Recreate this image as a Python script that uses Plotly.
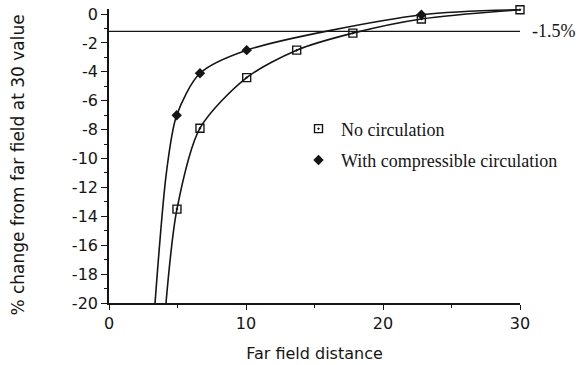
import plotly.graph_objects as go

# Data
no_circ_x = [4.96, 6.64, 10.05, 13.7, 17.8, 22.8, 30.0]
no_circ_y = [-13.5, -7.9, -4.4, -2.5, -1.32, -0.34, 0.3]
comp_x = [4.94, 6.64, 10.05, 22.8]
comp_y = [-7.0, -4.1, -2.5, -0.05]
common_end_x = [30.0]
common_end_y = [0.3]

# Curve continuation down to the axis floor (no markers there)
no_circ_tail_x = [4.16]
no_circ_tail_y = [-20.0]
comp_tail_x = [3.36, 4.2]
comp_tail_y = [-20.0, -10.9]

ref_level = -1.2
ref_label = "-1.5%"

x_ticks = [0, 10, 20, 30]
y_ticks = list(range(-20, 1, 2))

INK = "#151515"
fig = go.Figure()

line_style = dict(color=INK, width=1.6, shape="spline", smoothing=0.8)

fig.add_trace(go.Scatter(
    x=no_circ_tail_x + no_circ_x, y=no_circ_tail_y + no_circ_y,
    mode="lines", line=line_style, showlegend=False, hoverinfo="skip",
    cliponaxis=False))
fig.add_trace(go.Scatter(
    x=comp_tail_x + comp_x + common_end_x, y=comp_tail_y + comp_y + common_end_y,
    mode="lines", line=line_style, showlegend=False, hoverinfo="skip",
    cliponaxis=False))

fig.add_trace(go.Scatter(
    x=no_circ_x, y=no_circ_y, mode="markers", name="No circulation",
    legendgroup="a",
    marker=dict(symbol="square-open-dot", size=8, color=INK,
                line=dict(width=1.4, color=INK)),
    cliponaxis=False))
fig.add_trace(go.Scatter(
    x=comp_x, y=comp_y, mode="markers", name="With compressible circulation",
    legendgroup="b",
    marker=dict(symbol="diamond", size=8, color=INK),
    cliponaxis=False))

# reference line
fig.add_shape(type="line", xref="x", yref="y", x0=0, x1=30.1,
              y0=ref_level, y1=ref_level, line=dict(color=INK, width=1.4))
fig.add_annotation(x=1.024, y=ref_level, xref="paper", yref="y", text=ref_label,
                   showarrow=False, xanchor="left", yanchor="middle",
                   font=dict(family="Liberation Serif", size=18, color=INK))

# y axis title (placed as rotated text, offset like the original)
fig.add_annotation(x=-0.222, y=0.47, xref="paper", yref="paper",
                   text="% change from far field at 30 value", textangle=-90,
                   showarrow=False, xanchor="center", yanchor="middle",
                   font=dict(family="DejaVu Sans", size=17, color=INK))

fig.update_layout(
    width=579, height=365,
    margin=dict(l=109, r=59, t=5, b=62),
    paper_bgcolor="white", plot_bgcolor="white",
    font=dict(family="DejaVu Sans", size=16, color=INK),
    showlegend=True,
    legend=dict(x=0.455, y=0.655, xanchor="left", yanchor="top",
                font=dict(family="Liberation Serif", size=18, color=INK),
                bgcolor="rgba(0,0,0,0)", tracegroupgap=5, itemwidth=35),
)

fig.update_xaxes(
    range=[0, 30], tickvals=x_ticks, ticktext=[str(v) for v in x_ticks],
    showgrid=False, zeroline=False, showline=True, linecolor=INK,
    linewidth=1.6, ticks="outside", ticklen=5, tickwidth=1.4,
    tickcolor=INK, tickfont=dict(family="DejaVu Sans", size=16),
    minor=dict(dtick=5, tick0=0, ticks="outside", ticklen=3, tickwidth=1.4,
               tickcolor=INK, showgrid=False),
    title=dict(text="Far field distance", standoff=16,
               font=dict(family="DejaVu Sans", size=16)),
)
fig.update_yaxes(
    range=[-20, 0.35], tickvals=y_ticks, ticktext=[str(v) for v in y_ticks],
    showgrid=False, zeroline=False, showline=True, linecolor=INK,
    linewidth=1.6, ticks="outside", ticklen=6, tickwidth=1.4,
    tickcolor=INK, tickfont=dict(family="DejaVu Sans", size=16),
    minor=dict(dtick=1, tick0=0, ticks="outside", ticklen=3, tickwidth=1.2,
               tickcolor=INK, showgrid=False),
)

fig.write_html("out.html")
